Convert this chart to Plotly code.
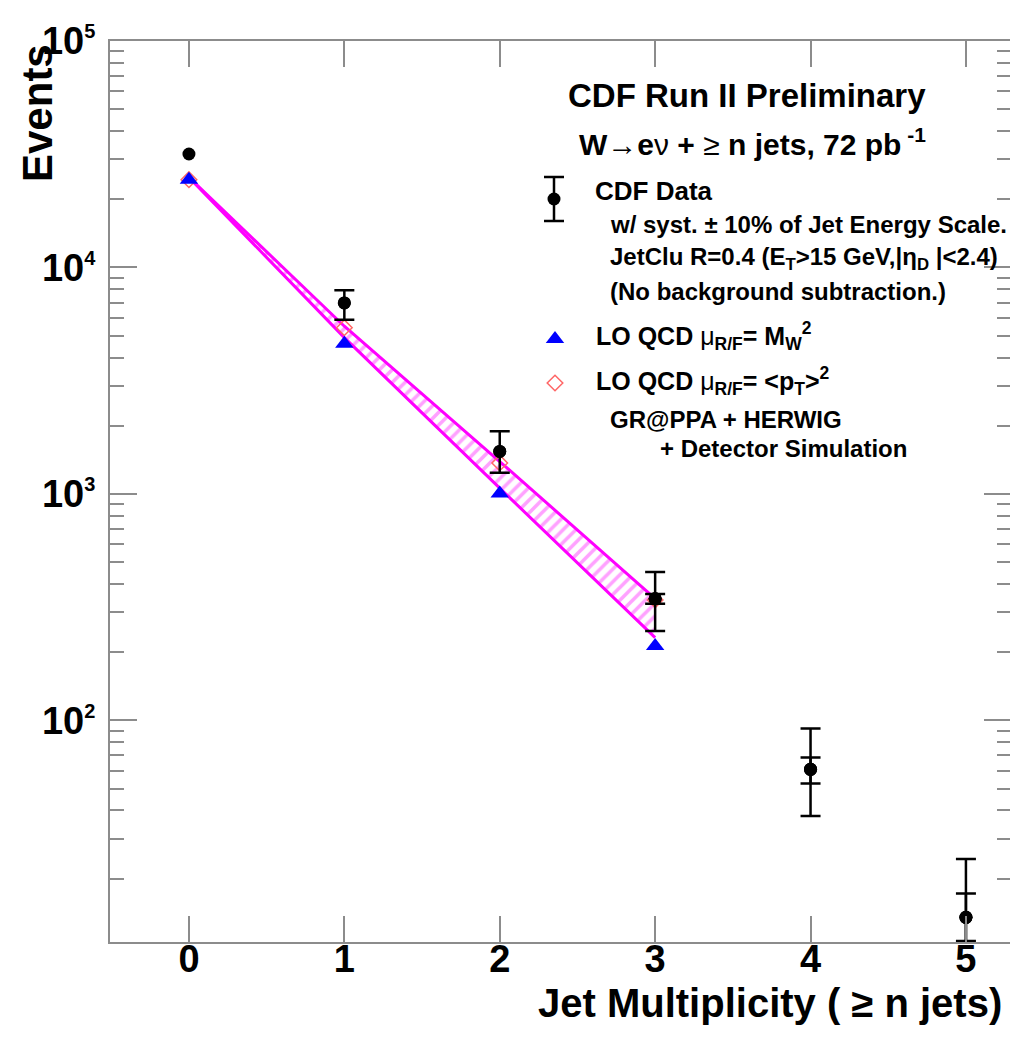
import math
import plotly.graph_objects as go

# ---------------- data ----------------
jets = [0, 1, 2, 3, 4, 5]
data_events = [31700, 6970, 1540, 344, 60.8, 13.5]
# total (stat + JES syst) edges; None = bar hidden inside the marker
data_tot_hi = [None, 7930, 1890, 452, 92.0, 24.4]
data_tot_lo = [None, 5880, 1240, 248, 37.8, 10.6]
# statistical-only edges
data_stat_hi = [None, None, None, 361, 68.5, 17.2]
data_stat_lo = [None, None, None, 327, 52.6, 9.8]

mc_jets = [0, 1, 2, 3]
lo_mw2 = [24400, 4600, 1005, 213]          # LO QCD mu = M_W^2 (triangles)
lo_pt2 = [24400, 5420, 1370, 340]          # LO QCD mu = <pT>^2 (diamonds)
band_hi = [25000, 5500, 1390, 345]
band_lo = [25000, 4900, 1060, 232]

y_major = [100, 1000, 10000, 100000]
y_major_exp = ["2", "3", "4", "5"]
y_minor = [m * 10 ** e for e in range(1, 5) for m in range(2, 10)]
x_ticks = [0, 1, 2, 3, 4, 5]
x_tick_text = ["0", "1", "2", "3", "4", "5"]

# ---------------- layout geometry ----------------
# the page body adds an 8px margin, so the figure is drawn 8px in from the window corner
OFF = 8
W, H = 1018 - OFF, 1041 - OFF
# plot frame in window pixels
SL, SR, ST, SB = 110, 1011, 41, 942
FONT = "Liberation Sans, Arial, Helvetica, sans-serif"
MAG = "#ff00ff"
FRAME = "#8c8c8c"


def px(x):
    return (x - SL) / (SR - SL)


def py(y):
    return (SB - y) / (SB - ST)


def err_trace(hi, lo):
    idx = [i for i in range(len(jets)) if hi[i] is not None]
    xs = [jets[i] for i in idx]
    ys = [data_events[i] for i in idx]
    up = [hi[i] - data_events[i] for i in idx]
    dn = [data_events[i] - lo[i] for i in idx]
    return go.Scatter(
        x=xs, y=ys, mode="markers",
        marker=dict(symbol="circle", size=13, color="black"),
        error_y=dict(type="data", symmetric=False, array=up, arrayminus=dn,
                     color="black", thickness=2.5, width=10),
        showlegend=False)


fig = go.Figure()

# hatched band between the two LO QCD predictions
fig.add_trace(go.Scatter(
    x=mc_jets + mc_jets[::-1], y=band_hi + band_lo[::-1],
    mode="lines", fill="toself", line=dict(color=MAG, width=0),
    fillcolor="rgba(255,255,255,0)",
    fillpattern=dict(shape="/", fgcolor="#ff44ff", bgcolor="rgba(255,255,255,0)",
                     size=9, solidity=0.4),
    hoverinfo="skip", showlegend=False))
fig.add_trace(go.Scatter(x=mc_jets, y=band_hi, mode="lines",
                         line=dict(color=MAG, width=3), showlegend=False))
fig.add_trace(go.Scatter(x=mc_jets, y=band_lo, mode="lines",
                         line=dict(color=MAG, width=3), showlegend=False))

# LO QCD points
fig.add_trace(go.Scatter(x=mc_jets, y=lo_pt2, mode="markers",
                         marker=dict(symbol="diamond-open", size=12, color="#ff6666",
                                     line=dict(width=1.5, color="#ff6666")), showlegend=False))
fig.add_trace(go.Scatter(x=mc_jets, y=lo_mw2, mode="markers",
                         marker=dict(symbol="triangle-up", size=16, color="#0000ff",
                                     line=dict(width=0)), showlegend=False))

# CDF data: total (syst) error bars, stat error bars, then the points
fig.add_trace(err_trace(data_tot_hi, data_tot_lo))
fig.add_trace(err_trace(data_stat_hi, data_stat_lo))
fig.add_trace(go.Scatter(x=jets, y=data_events, mode="markers",
                         marker=dict(symbol="circle", size=13, color="black"),
                         showlegend=False))

# legend glyphs on an overlay paper-like axis
fig.add_trace(go.Scatter(
    x=[px(554)], y=[py(199)], xaxis="x2", yaxis="y2", mode="markers",
    marker=dict(symbol="circle", size=13, color="black"),
    error_y=dict(type="data", array=[py(177) - py(199)], color="black",
                 thickness=2.5, width=10),
    showlegend=False, hoverinfo="skip"))
fig.add_trace(go.Scatter(
    x=[px(555)], y=[py(339)], xaxis="x2", yaxis="y2", mode="markers",
    marker=dict(symbol="triangle-up", size=16, color="#0000ff"),
    showlegend=False, hoverinfo="skip"))
fig.add_trace(go.Scatter(
    x=[px(555)], y=[py(383)], xaxis="x2", yaxis="y2", mode="markers",
    marker=dict(symbol="diamond-open", size=12, color="#ff6666",
                line=dict(width=1.5, color="#ff6666")),
    showlegend=False, hoverinfo="skip"))

ann = []


def text(s, x, ybase, size, anchor="left"):
    ann.append(dict(text=s, x=px(x), y=py(ybase - 0.35 * size), xref="paper", yref="paper",
                    xanchor=anchor, yanchor="middle", showarrow=False,
                    font=dict(family=FONT, size=size, color="black", weight="bold")))


MU = "<span style='font-weight:normal'>\u03bc</span>"
text("CDF Run II Preliminary", 747, 107, 33, anchor="center")
text("W<span style='font-weight:normal'>\u2192</span>e<span style='font-weight:normal'>\u03bd</span>"
     " + <span style='font-weight:normal'>\u2265</span> n jets, 72 pb<sup> -1</sup>", 577, 153, 30)
text("CDF Data", 593, 200, 26)
text("w/ syst. \u00b1 10% of Jet Energy Scale.", 608, 233, 24)
text("JetClu R=0.4 (E<sub>T</sub>>15 GeV,|\u03b7<sub>D</sub> |<2.4)", 608, 267, 24)
text("(No background subtraction.)", 608, 300, 24)
text("LO QCD " + MU + "<sub>R/F</sub>= M<sub>W</sub><sup>2</sup>", 594, 345, 25)
text("LO QCD " + MU + "<sub>R/F</sub>= <p<sub>T</sub>><sup>2</sup>", 594, 390, 25)
text("GR@PPA + HERWIG", 608, 428, 24)
text("+ Detector Simulation", 658, 457, 24)

# axis titles
ann.append(dict(text="Events", x=px(37), y=py(42), xref="paper", yref="paper",
                xanchor="center", yanchor="top", textangle=-90, showarrow=False,
                font=dict(family=FONT, size=42, color="black", weight="bold")))
ann.append(dict(text="Jet Multiplicity ( \u2265 n jets)", x=px(1004), y=py(1003),
                xref="paper", yref="paper", xanchor="right", yanchor="middle",
                showarrow=False,
                font=dict(family=FONT, size=40, color="black", weight="bold")))

y_tick_text = ["10<sup><span style='font-size:20px'>%s</span></sup>" % e for e in y_major_exp]

fig.update_layout(
    width=W, height=H,
    margin=dict(l=SL - OFF, r=W - (SR - OFF), t=ST - OFF, b=H - (SB - OFF), autoexpand=False),
    paper_bgcolor="white", plot_bgcolor="white",
    annotations=ann,
    xaxis=dict(range=[-0.508, 5.29], tickmode="array", tickvals=x_ticks, ticktext=x_tick_text,
               ticks="inside", ticklen=26, tickwidth=1.5, tickcolor=FRAME,
               showline=True, linecolor=FRAME, linewidth=2, mirror="allticks",
               showgrid=False, zeroline=False, automargin=False, ticklabelstandoff=-18,
               tickfont=dict(family=FONT, size=38, color="black", weight="bold")),
    yaxis=dict(type="log", range=[math.log10(10.5), 5], tickmode="array",
               tickvals=y_major, ticktext=y_tick_text,
               ticks="inside", ticklen=27, tickwidth=1.5, tickcolor=FRAME,
               minor=dict(tickmode="array", tickvals=y_minor, ticks="inside",
                          ticklen=14, tickwidth=1.5, tickcolor=FRAME, showgrid=False),
               showline=True, linecolor=FRAME, linewidth=2, mirror="allticks",
               showgrid=False, zeroline=False, automargin=False, ticklabelstandoff=5,
               tickfont=dict(family=FONT, size=38, color="black", weight="bold")),
    xaxis2=dict(range=[0, 1], overlaying="x", visible=False, fixedrange=True),
    yaxis2=dict(range=[0, 1], overlaying="y", visible=False, fixedrange=True),
)

fig.write_html("out.html")
